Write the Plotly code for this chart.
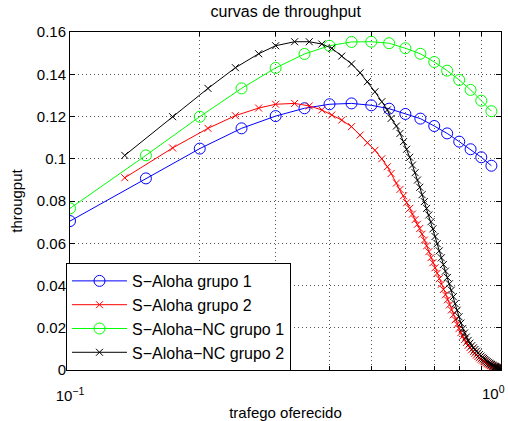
import plotly.graph_objects as go

# S-Aloha / S-Aloha-NC grupo 1 (offered traffic axis)
g1_x = [0.10, 0.15, 0.20, 0.25, 0.30, 0.35, 0.40, 0.45, 0.50, 0.55,
        0.60, 0.65, 0.70, 0.75, 0.80, 0.85, 0.90, 0.95]
aloha_g1 = [0.0705, 0.0907, 0.1048, 0.1144, 0.1202, 0.1239, 0.1258, 0.1262, 0.1253, 0.1237,
            0.1212, 0.1190, 0.1155, 0.1120, 0.1081, 0.1045, 0.1007, 0.0967]
nc_g1 = [0.0765, 0.1016, 0.1199, 0.1333, 0.1430, 0.1496, 0.1535, 0.1553, 0.1554, 0.1547,
         0.1523, 0.1497, 0.1458, 0.1417, 0.1373, 0.1326, 0.1275, 0.1225]

# grupo 2 (shared x positions)
g2_x = [0.134, 0.173, 0.209, 0.242, 0.274, 0.300, 0.332, 0.359, 0.384, 0.405,
        0.427, 0.450, 0.471, 0.490, 0.510, 0.529, 0.545, 0.556, 0.572, 0.583,
        0.594, 0.604, 0.614, 0.623, 0.632, 0.640, 0.648, 0.656, 0.664, 0.672,
        0.680, 0.688, 0.695, 0.703, 0.711, 0.719, 0.727, 0.735, 0.743, 0.751,
        0.759, 0.767, 0.775, 0.783, 0.791, 0.799, 0.807, 0.815, 0.823, 0.831,
        0.839, 0.847, 0.855, 0.863, 0.870, 0.877, 0.884, 0.891, 0.898, 0.905,
        0.911, 0.917, 0.923, 0.929, 0.935, 0.941, 0.946, 0.951, 0.956, 0.961,
        0.966, 0.970, 0.974, 0.978, 0.982, 0.986, 0.990, 0.994, 0.998]
aloha_g2 = [0.0910, 0.1051, 0.1144, 0.1204, 0.1240, 0.1258, 0.1262, 0.1250, 0.1231, 0.1207,
            0.1183, 0.1152, 0.1112, 0.1076, 0.1040, 0.1000, 0.0962, 0.0930, 0.0885, 0.0855,
            0.0825, 0.0792, 0.0765, 0.0738, 0.0712, 0.0690, 0.0670, 0.0643, 0.0615, 0.0588,
            0.0560, 0.0532, 0.0508, 0.0484, 0.0458, 0.0432, 0.0406, 0.0381, 0.0356, 0.0332,
            0.0308, 0.0284, 0.0261, 0.0238, 0.0216, 0.0196, 0.0177, 0.0160, 0.0144, 0.0130,
            0.0117, 0.0106, 0.0096, 0.0087, 0.0079, 0.0071, 0.0064, 0.0058, 0.0052, 0.0047,
            0.0042, 0.0038, 0.0034, 0.0030, 0.0027, 0.0024, 0.0021, 0.0019, 0.0017, 0.0015,
            0.0013, 0.0011, 0.0010, 0.0009, 0.0008, 0.0007, 0.0006, 0.0005, 0.0004]
nc_g2 = [0.1016, 0.1199, 0.1333, 0.1431, 0.1497, 0.1535, 0.1554, 0.1554, 0.1543, 0.1523,
         0.1486, 0.1449, 0.1407, 0.1365, 0.1317, 0.1270, 0.1231, 0.1191, 0.1155, 0.1120,
         0.1081, 0.1045, 0.1007, 0.0970, 0.0934, 0.0899, 0.0865, 0.0830, 0.0797, 0.0765,
         0.0734, 0.0702, 0.0668, 0.0632, 0.0598, 0.0564, 0.0531, 0.0499, 0.0468, 0.0438,
         0.0408, 0.0378, 0.0347, 0.0314, 0.0283, 0.0252, 0.0222, 0.0196, 0.0175, 0.0156,
         0.0140, 0.0127, 0.0115, 0.0105, 0.0097, 0.0089, 0.0081, 0.0073, 0.0066, 0.0060,
         0.0055, 0.0050, 0.0045, 0.0040, 0.0036, 0.0032, 0.0029, 0.0026, 0.0023, 0.0020,
         0.0018, 0.0016, 0.0014, 0.0012, 0.0011, 0.0010, 0.0009, 0.0008, 0.0007]

names = ["S\u2212Aloha grupo 1", "S\u2212Aloha grupo 2",
         "S\u2212Aloha\u2212NC grupo 1", "S\u2212Aloha\u2212NC grupo 2"]

x_tickvals = [0.1]
x_ticktext = ["10<sup>\u22121</sup>"]
x_end_label = "10<sup>0</sup>"
x_minorvals = [0.2, 0.3, 0.4, 0.5, 0.6, 0.7, 0.8, 0.9, 1.0]
y_tickvals = [0, 0.02, 0.04, 0.06, 0.08, 0.10, 0.12, 0.14, 0.16]
y_ticktext = ["0", "0.02", "0.04", "0.06", "0.08", "0.1", "0.12", "0.14", "0.16"]

FONT = "Liberation Sans, Arial, sans-serif"
GRID = dict(gridcolor="#555", griddash="1px,3px", gridwidth=1)

fig = go.Figure()
specs = [
    (g1_x, aloha_g1, names[0], "#0000ff", "circle-open", 11),
    (g2_x, aloha_g2, names[1], "#ff0000", "x-thin-open", 7),
    (g1_x, nc_g1, names[2], "#00ff00", "circle-open", 11),
    (g2_x, nc_g2, names[3], "#000000", "x-thin-open", 7),
]
for xs, ys, nm, col, sym, sz in specs:
    fig.add_trace(go.Scatter(
        x=xs, y=ys, name=nm, mode="lines+markers",
        line=dict(color=col, width=1),
        marker=dict(symbol=sym, size=sz, color=col, line=dict(color=col, width=1)),
    ))

fig.add_annotation(text=x_end_label, xref="paper", yref="paper",
                   x=1.0139, y=-0.068, xanchor="right", yanchor="middle",
                   showarrow=False, font=dict(family=FONT, size=15, color="black"))

fig.update_layout(
    width=508, height=421,
    margin=dict(l=70, r=7, t=32, b=51, autoexpand=False),
    paper_bgcolor="white", plot_bgcolor="white",
    font=dict(family=FONT, size=15, color="black"),
    title=dict(text="curvas de throughput", x=0.5625, xanchor="center",
               y=0.972, yanchor="middle", font=dict(family=FONT, size=16, color="black")),
    showlegend=True,
    legend=dict(x=-0.0093, y=0.3166, xanchor="left", yanchor="top",
                bgcolor="white", bordercolor="black", borderwidth=1,
                font=dict(family=FONT, size=16), itemwidth=55, traceorder="normal"),
    xaxis=dict(type="log", range=[-1, 0], tickmode="array", automargin=False,
               tickvals=x_tickvals, ticktext=x_ticktext,
               tickfont=dict(family=FONT, size=15),
               showgrid=True, **GRID,
               minor=dict(tickmode="array", tickvals=x_minorvals, showgrid=True,
                          ticks="inside", ticklen=4, tickcolor="black", **GRID),
               showline=True, linecolor="black", linewidth=1, mirror="allticks",
               ticks="inside", ticklen=5, tickcolor="black",
               zeroline=False, ticklabelstandoff=12,
               title=dict(text="trafego oferecido", standoff=4,
                          font=dict(family=FONT, size=15))),
    yaxis=dict(range=[0, 0.16], tickmode="array", automargin=False,
               tickvals=y_tickvals, ticktext=y_ticktext,
               tickfont=dict(family=FONT, size=15),
               showgrid=True, **GRID,
               showline=True, linecolor="black", linewidth=1, mirror="allticks",
               ticks="inside", ticklen=5, tickcolor="black",
               zeroline=False,
               title=dict(text="througput", standoff=10,
                          font=dict(family=FONT, size=15))),
)

fig.write_html("out.html")
